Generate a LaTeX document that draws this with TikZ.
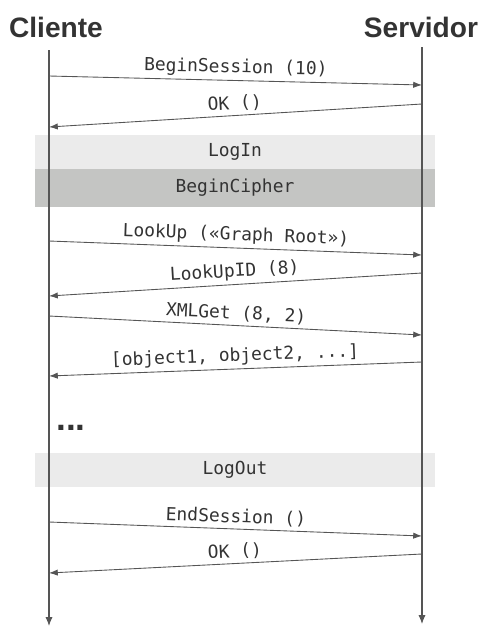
\documentclass[tikz,border=0pt]{standalone}
\usepackage{fontspec}
\setmainfont{Liberation Sans}
\setmonofont{DejaVu Sans Mono}
\usetikzlibrary{arrows.meta}

\definecolor{linegray}{HTML}{555555}
\definecolor{textgray}{HTML}{333333}
\definecolor{phaselight}{HTML}{EBEBEB}
\definecolor{phasedark}{HTML}{C4C5C3}

\tikzset{
  actor/.style={font=\bfseries\fontsize{16}{18}\selectfont, text=textgray, inner sep=0pt},
  lifeline/.style={draw=linegray, line width=0.6pt, -{Latex[length=5pt,width=4pt]}},
  msg/.style={draw=linegray, line width=0.5pt, -{Latex[length=5pt,width=3.6pt]}},
  msglabel/.style={midway, sloped, above, inner sep=2pt, text=textgray,
    font=\ttfamily\fontsize{10.2}{12}\selectfont},
  phase/.style={minimum width=8cm, inner sep=0pt, text=textgray,
    font=\ttfamily\fontsize{10.2}{12}\selectfont}
}

\begin{document}
\begin{tikzpicture}[x=0.02cm, y=-0.02cm]
    \useasboundingbox (0,0) rectangle (480,626);

    % Fases
    \node[phase, fill=phaselight, minimum height=0.68cm] (login) at (235,152) {LogIn};
    \node[phase, fill=phasedark, minimum height=0.76cm] (cipher) at (235,188) {BeginCipher};
    \node[phase, fill=phaselight, minimum height=0.68cm] (logout) at (235,470) {LogOut};

    % Actores
    \node[actor] (cliente) at (56,27) {Cliente};
    \node[actor] (servidor) at (421,27) {Servidor};

    % Lineas de vida
    \coordinate (ctop) at (49,50);
    \coordinate (cbot) at (49,626);
    \coordinate (stop) at (422,47);
    \coordinate (sbot) at (422,624);
    \draw[lifeline] (ctop) -- (cbot);
    \draw[lifeline] (stop) -- (sbot);

    % Puntos de los mensajes
    \coordinate (c1) at (49,76);  \coordinate (s1) at (422,85);
    \coordinate (s2) at (422,104); \coordinate (c2) at (49,127);
    \coordinate (c3) at (49,241); \coordinate (s3) at (422,255);
    \coordinate (s4) at (422,273); \coordinate (c4) at (49,296);
    \coordinate (c5) at (49,316); \coordinate (s5) at (422,335);
    \coordinate (s6) at (422,362); \coordinate (c6) at (49,376);
    \coordinate (c7) at (49,522); \coordinate (s7) at (422,536);
    \coordinate (s8) at (422,554); \coordinate (c8) at (49,573);

    % Mensajes
    \draw[msg] (c1) -- (s1) node[msglabel] {BeginSession (10)};
    \draw[msg] (s2) -- (c2) node[msglabel] {OK ()};
    \draw[msg] (c3) -- (s3) node[msglabel] {LookUp («Graph Root»)};
    \draw[msg] (s4) -- (c4) node[msglabel] {LookUpID (8)};
    \draw[msg] (c5) -- (s5) node[msglabel] {XMLGet (8, 2)};
    \draw[msg] (s6) -- (c6) node[msglabel] {[object1, object2, ...]};
    \draw[msg] (c7) -- (s7) node[msglabel] {EndSession ()};
    \draw[msg] (s8) -- (c8) node[msglabel] {OK ()};

    \node[actor, anchor=base, font=\bfseries\fontsize{20}{22}\selectfont] (dots) at (71,430) {...}; % puntos suspensivos
\end{tikzpicture}
\end{document}
